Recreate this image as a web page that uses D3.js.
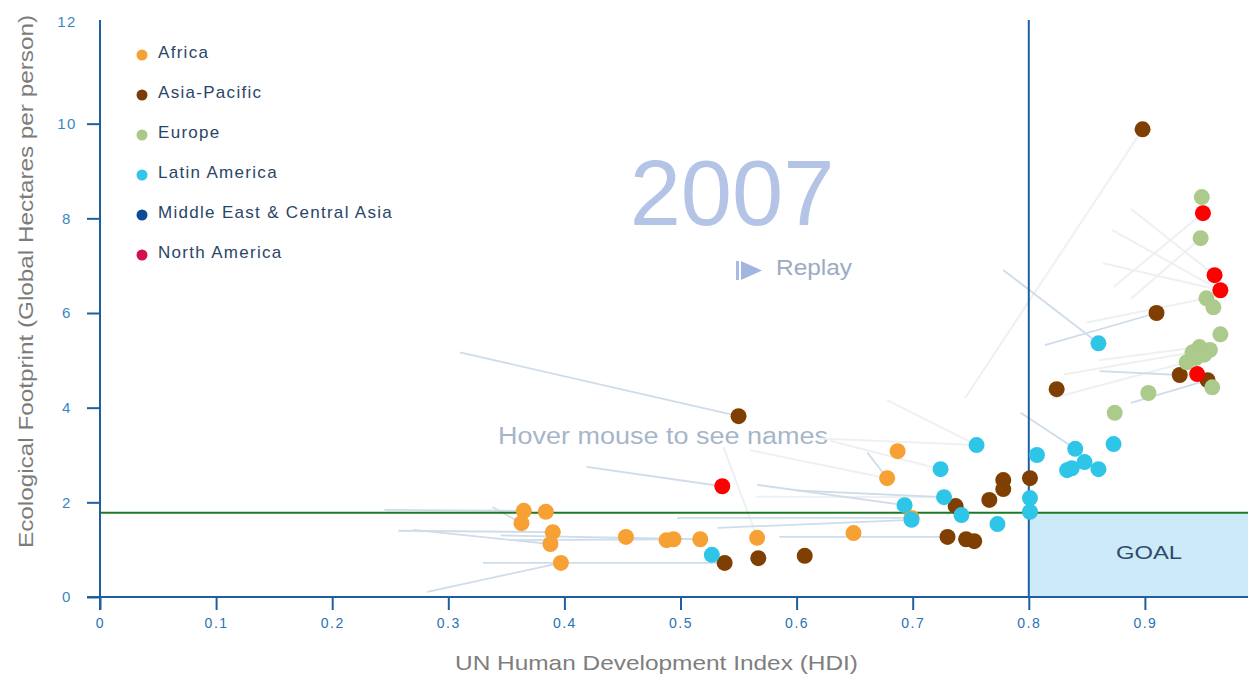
<!DOCTYPE html>
<html>
<head>
<meta charset="utf-8">
<script src="https://cdn.jsdelivr.net/npm/d3@7"></script>
<style>
  body { margin: 0; background: #fff; }
  svg { display: block; font-family: "Liberation Sans", Arial, sans-serif; }
</style>
</head>
<body>
<div class="main"></div>
<script>
// Data
const regions = ['Africa', 'Asia-Pacific', 'Europe', 'Latin America', 'Middle East & Central Asia', 'North America'];
const year = '2007';
const goalFootprint = 1.78;
const goalHDI = 0.8;
const xTicks = [0, 0.1, 0.2, 0.3, 0.4, 0.5, 0.6, 0.7, 0.8, 0.9];
const yTicks = [0, 2, 4, 6, 8, 10, 12];

const africaHDI = [0.365, 0.363, 0.384, 0.390, 0.388, 0.397, 0.453, 0.488, 0.494, 0.517, 0.566, 0.649, 0.678, 0.687, 0.699];
const africaEF  = [1.82, 1.56, 1.80, 1.37, 1.12, 0.72, 1.27, 1.20, 1.22, 1.22, 1.25, 1.35, 2.51, 3.08, 1.67];

const asiaHDI = [0.538, 0.567, 0.607, 0.550, 0.730, 0.746, 0.753, 0.737, 0.766, 0.778, 0.778, 0.801, 0.824, 0.898, 0.910, 0.930, 0.954];
const asiaEF  = [0.72, 0.82, 0.87, 3.82, 1.27, 1.22, 1.18, 1.92, 2.05, 2.47, 2.28, 2.51, 4.39, 9.88, 6.00, 4.69, 4.58];

const europeHDI = [0.949, 0.948, 0.953, 0.959, 0.965, 0.903, 0.874, 0.947, 0.941, 0.936, 0.956, 0.944, 0.958, 0.951];
const europeEF  = [8.45, 7.58, 6.31, 6.12, 5.55, 4.31, 3.89, 5.28, 5.17, 4.96, 5.22, 5.05, 4.43, 5.12];

const latinHDI = [0.527, 0.693, 0.699, 0.724, 0.727, 0.742, 0.755, 0.773, 0.801, 0.801, 0.807, 0.833, 0.837, 0.840, 0.848, 0.860, 0.873, 0.860];
const latinEF  = [0.89, 1.94, 1.63, 2.70, 2.11, 1.73, 3.21, 1.54, 2.09, 1.80, 3.00, 2.68, 2.72, 3.13, 2.85, 2.70, 3.23, 5.36];

const middleEastHDI = [];
const middleEastEF  = [];

const northAmericaHDI = [0.536, 0.950, 0.960, 0.965, 0.945];
const northAmericaEF  = [2.34, 8.11, 6.80, 6.48, 4.71];

// Trails: [startHDI, startEF, endHDI, endEF]
const trailsBlue = [
  [0.310, 5.17, 0.550, 3.82],
  [0.778, 6.91, 0.860, 5.36],
  [0.814, 5.32, 0.910, 6.00],
  [0.245, 1.84, 0.365, 1.82],
  [0.338, 1.90, 0.363, 1.56],
  [0.257, 1.40, 0.390, 1.37],
  [0.270, 1.42, 0.388, 1.12],
  [0.353, 1.20, 0.494, 1.22],
  [0.345, 1.30, 0.517, 1.22],
  [0.330, 0.72, 0.538, 0.72],
  [0.282, 0.11, 0.397, 0.72],
  [0.419, 2.75, 0.536, 2.34],
  [0.566, 2.37, 0.693, 1.94],
  [0.600, 2.25, 0.727, 2.11],
  [0.497, 1.67, 0.699, 1.67],
  [0.532, 1.46, 0.699, 1.63],
  [0.585, 1.27, 0.730, 1.27],
  [0.661, 3.05, 0.678, 2.51],
  [0.793, 3.89, 0.840, 3.13],
  [0.861, 4.77, 0.930, 4.69],
  [0.888, 4.10, 0.954, 4.58]
];
const trailsGrey = [
  [0.745, 4.20, 0.898, 9.88],
  [0.888, 8.20, 0.960, 6.80],
  [0.872, 7.75, 0.965, 6.48],
  [0.864, 7.05, 0.965, 6.48],
  [0.873, 6.55, 0.950, 8.11],
  [0.888, 6.30, 0.948, 7.58],
  [0.850, 5.80, 0.953, 6.31],
  [0.860, 5.00, 0.947, 5.28],
  [0.830, 4.70, 0.941, 5.17],
  [0.820, 4.20, 0.936, 4.96],
  [0.678, 4.16, 0.755, 3.21],
  [0.620, 3.35, 0.755, 3.21],
  [0.629, 3.30, 0.724, 2.70],
  [0.537, 3.17, 0.566, 1.25],
  [0.560, 3.10, 0.678, 2.51],
  [0.565, 2.12, 0.727, 2.11]
];

// Variables
const width = 1248,
      height = 674,
      margin = {top: 20, left: 100, bottom: 77, right: 0};

const legendColors = ['#f5a135', '#7a3c08', '#a9c98b', '#33c5ea', '#0c4b9b', '#d3104b'];
const pointColors = ['#f7a033', '#7f3f02', '#abca8c', '#2ec5e7', '#0c4b9b', '#ff0000'];
const axisColor = '#1f5fa0';

const groups = [
  [africaHDI, africaEF],
  [asiaHDI, asiaEF],
  [europeHDI, europeEF],
  [latinHDI, latinEF],
  [middleEastHDI, middleEastEF],
  [northAmericaHDI, northAmericaEF]
];
const points = [];
groups.forEach((g, gi) => {
  g[0].forEach((v, i) => points.push({region: gi, hdi: v, ef: g[1][i]}));
});

// Canvas
const svg = d3.select('.main')
              .append('svg')
              .attr('width', width)
              .attr('height', height)
              .style('background', '#fff');

// Scales
const xScale = d3.scaleLinear()
                 .domain([0, 1])
                 .range([100, 1261]);
const yScale = d3.scaleLinear()
                 .domain([0, 12])
                 .range([597, 29]);

// Goal area
svg.append('rect')
   .attr('x', xScale(goalHDI))
   .attr('y', yScale(goalFootprint))
   .attr('width', width - xScale(goalHDI))
   .attr('height', yScale(0) - yScale(goalFootprint))
   .attr('fill', '#cdeaf9');

svg.append('text')
   .attr('x', 1116)
   .attr('y', 559)
   .attr('font-size', 18)
   .attr('textLength', 66)
   .attr('lengthAdjust', 'spacingAndGlyphs')
   .attr('fill', '#2d4b6b')
   .text('GOAL');

// Big year + labels
svg.append('text')
   .attr('x', 732)
   .attr('y', 225)
   .attr('text-anchor', 'middle')
   .attr('font-size', 92)
   .attr('fill', '#b4c4e6')
   .text(year);

svg.append('rect')
   .attr('x', 736).attr('y', 261).attr('width', 3).attr('height', 19)
   .attr('fill', '#a9bbe2');
svg.append('path')
   .attr('d', 'M741,261 L762,270.5 L741,280 Z')
   .attr('fill', '#a2b5e0');
svg.append('text')
   .attr('x', 776)
   .attr('y', 275)
   .attr('font-size', 22)
   .attr('textLength', 76)
   .attr('lengthAdjust', 'spacingAndGlyphs')
   .attr('fill', '#9aabc2')
   .text('Replay');

svg.append('text')
   .attr('x', 498)
   .attr('y', 444)
   .attr('font-size', 23)
   .attr('textLength', 330)
   .attr('lengthAdjust', 'spacingAndGlyphs')
   .attr('fill', '#a6b6ca')
   .text('Hover mouse to see names');

// Trails
svg.append('g').selectAll('line')
   .data(trailsGrey)
   .enter()
   .append('line')
   .attr('x1', d => xScale(d[0])).attr('y1', d => yScale(d[1]))
   .attr('x2', d => xScale(d[2])).attr('y2', d => yScale(d[3]))
   .attr('stroke', '#eef0f3')
   .attr('stroke-width', 2);

svg.append('g').selectAll('line')
   .data(trailsBlue)
   .enter()
   .append('line')
   .attr('x1', d => xScale(d[0])).attr('y1', d => yScale(d[1]))
   .attr('x2', d => xScale(d[2])).attr('y2', d => yScale(d[3]))
   .attr('stroke', '#cfdcea')
   .attr('stroke-width', 1.8);

// Goal lines
svg.append('line')
   .attr('x1', xScale(0)).attr('x2', width)
   .attr('y1', yScale(goalFootprint)).attr('y2', yScale(goalFootprint))
   .attr('stroke', '#1d7a22')
   .attr('stroke-width', 2);

svg.append('line')
   .attr('x1', xScale(goalHDI)).attr('x2', xScale(goalHDI))
   .attr('y1', margin.top).attr('y2', yScale(0))
   .attr('stroke', axisColor)
   .attr('stroke-width', 2);

// Axes
const yAxis = svg.append('g')
   .attr('transform', `translate(${xScale(0)}, 0)`)
   .call(d3.axisLeft(yScale).tickValues(yTicks).tickSize(13).tickFormat(d3.format('d')));
yAxis.select('.domain').remove();
yAxis.selectAll('line').attr('stroke', axisColor).attr('stroke-width', 2);
yAxis.selectAll('text')
     .attr('x', -33)
     .attr('text-anchor', 'middle')
     .attr('font-size', 15)
     .attr('letter-spacing', 1.5)
     .attr('font-family', '"Liberation Sans", Arial, sans-serif')
     .attr('fill', '#3a86c2');
yAxis.selectAll('.tick').filter(d => d === 12).select('line').remove();
yAxis.selectAll('.tick').filter(d => d === 12).select('text').attr('dy', '-0.2em');

const xAxis = svg.append('g')
   .attr('transform', `translate(0, ${yScale(0)})`)
   .call(d3.axisBottom(xScale).tickValues(xTicks).tickSize(13).tickPadding(8)
           .tickFormat(d => d === 0 ? '0' : d3.format('.1f')(d)));
xAxis.select('.domain').remove();
xAxis.selectAll('line').attr('stroke', axisColor).attr('stroke-width', 2);
xAxis.selectAll('text')
     .attr('font-size', 14)
     .attr('letter-spacing', 1.5)
     .attr('font-family', '"Liberation Sans", Arial, sans-serif')
     .attr('fill', '#2b72b2');

svg.append('line')
   .attr('x1', xScale(0)).attr('x2', xScale(0))
   .attr('y1', margin.top).attr('y2', yScale(0) + 13)
   .attr('stroke', axisColor).attr('stroke-width', 2);
svg.append('line')
   .attr('x1', 87).attr('x2', width)
   .attr('y1', yScale(0)).attr('y2', yScale(0))
   .attr('stroke', axisColor).attr('stroke-width', 2);

// Axis titles
svg.append('text')
   .attr('transform', 'translate(33, 548) rotate(-90)')
   .attr('font-size', 20)
   .attr('textLength', 533)
   .attr('lengthAdjust', 'spacingAndGlyphs')
   .attr('fill', '#7b7b7b')
   .text('Ecological Footprint (Global Hectares per person)');

svg.append('text')
   .attr('x', 455)
   .attr('y', 670)
   .attr('font-size', 21)
   .attr('textLength', 403)
   .attr('lengthAdjust', 'spacingAndGlyphs')
   .attr('fill', '#7e7e7e')
   .text('UN Human Development Index (HDI)');

// Points
svg.append('g').selectAll('circle')
   .data(points)
   .enter()
   .append('circle')
   .attr('cx', d => xScale(d.hdi))
   .attr('cy', d => yScale(d.ef))
   .attr('r', 8)
   .attr('fill', d => pointColors[d.region]);

// Legend
const legend = svg.append('g').selectAll('g')
   .data(regions)
   .enter()
   .append('g')
   .attr('transform', (d, i) => `translate(142, ${55 + i * 40})`);
legend.append('circle')
      .attr('r', 5.5)
      .attr('fill', (d, i) => legendColors[i]);
legend.append('text')
      .attr('x', 16)
      .attr('y', 3)
      .attr('font-size', 17)
      .attr('letter-spacing', 1.3)
      .attr('fill', '#2a4567')
      .text(d => d);
</script>
</body>
</html>
